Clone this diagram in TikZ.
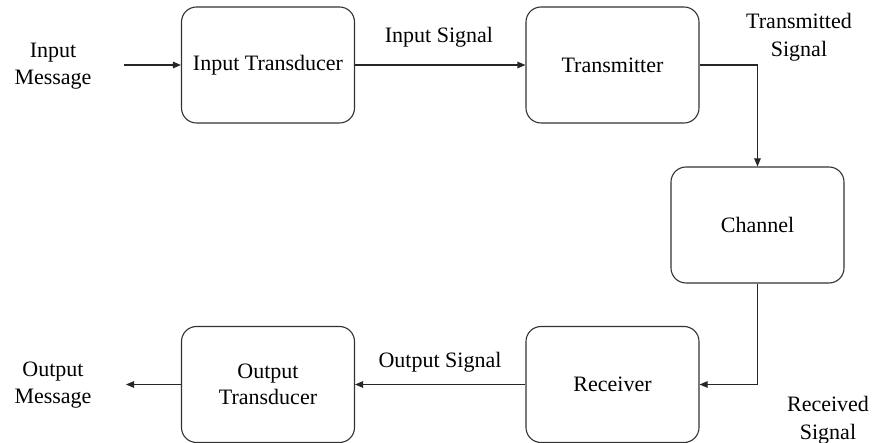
\documentclass[tikz,border=0pt]{standalone}
\usepackage{fontspec}
\IfFontExistsTF{LiberationSerif-Regular.ttf}{\newfontfamily\tnr{LiberationSerif-Regular.ttf}}{\newfontfamily\tnr{Latin Modern Roman}}
\usetikzlibrary{arrows.meta}
\begin{document}
\begin{tikzpicture}[x=1pt,y=-1pt,
  blk/.style={draw=black!80, line width=1.1pt, rounded corners=15pt, minimum width=173pt, minimum height=116pt, inner sep=0pt, font=\tnr\fontsize{22}{26}\selectfont},
  lbl/.style={align=center, inner sep=0pt, font=\tnr\fontsize{22}{27.5}\selectfont},
  conn/.style={draw=black!85, line width=1.1pt, -{Triangle[length=8pt,width=6.5pt]}}]
\useasboundingbox (0,0) rectangle (873,443);
\node[blk] (it) at (268,65) {Input Transducer};
\node[blk] (tx) at (612.5,65) {Transmitter};
\node[blk] (ch) at (757.5,225) {Channel};
\node[blk] (rx) at (612.5,384.5) {Receiver};
\node[blk, align=center] (ot) at (268,384.5) {Output\\Transducer};
\coordinate (inmsg) at (124,65);
\coordinate (outmsg) at (126,384.5);
\node[lbl] (lin) at (53,66) {Input\\Message};
\node[lbl] (lout) at (53,385) {Output\\Message};
\node[lbl] (lis) at (439,37) {Input Signal};
\node[lbl] (los) at (440,362) {Output Signal};
\node[lbl] (lts) at (799,37) {Transmitted\\Signal};
\node[lbl] (lrs) at (828,420) {Received\\Signal};
\draw[conn] (inmsg) -- (it.west);
\draw[conn] (it.east) -- (tx.west);
\draw[conn] (tx.east) -| (ch.north);
\draw[conn] (ch.south) |- (rx.east);
\draw[conn] (rx.west) -- (ot.east);
\draw[conn] (ot.west) -- (outmsg);
\end{tikzpicture}
\end{document}
